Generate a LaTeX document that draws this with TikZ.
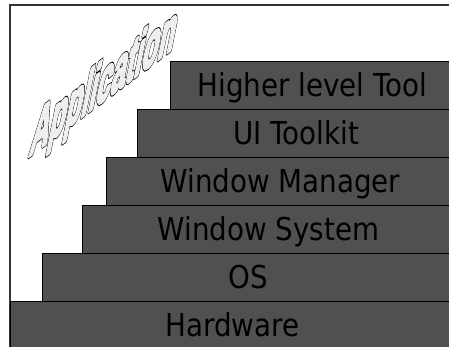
\documentclass[tikz,border=0pt]{standalone}
\usepackage{fontspec}
\setmainfont{DejaVu Sans}[FakeStretch=0.88]
\newfontfamily\appfont{Liberation Sans}
\usetikzlibrary{positioning}

\definecolor{layerfill}{RGB}{80,80,80}
\definecolor{wordfill}{RGB}{238,238,238}
% outline pass first, then a fat light pass on top
\newcommand{\outlined}[1]{%
  \rlap{\special{pdf:literal direct 1 j 0 0 0 RG 2.4 w 2 Tr}#1}%
  \special{pdf:literal direct 1 j 0.933 0.933 0.933 RG 1.6 w 2 Tr}#1\special{pdf:literal direct 0 Tr}}

\begin{document}
\begin{tikzpicture}[x=1pt, y=1pt]
    % Define styles
    \tikzstyle{layer} = [rectangle, draw=black, line width=0.8pt, fill=layerfill, text=black, inner sep=0pt, outer sep=0pt, minimum height=48pt, text height=30pt, text depth=6pt, font=\fontsize{31.5}{36}\selectfont, anchor=south east]
    \tikzstyle{frame} = [draw=black!80, line width=1.3pt]
    \tikzstyle{wordart} = [inner sep=0pt, anchor=base west, transform shape, text=wordfill, font=\appfont\bfseries\fontsize{26.5}{30}\selectfont]

    \useasboundingbox (0,0) rectangle (449,347);
    \clip (0,0) rectangle (449,347);

    % Frame
    \coordinate (corner) at (10,342);
    \draw [frame] (10,-5) -- (corner) -- (470,342);

    % Layers
    \node [layer, minimum width=445pt] (hardware) at (455,-2) {Hardware};
    \node [layer, minimum width=413pt] (os) at (hardware.north east) {OS};
    \node [layer, minimum width=373pt] (winsys) at (os.north east) {Window System};
    \node [layer, minimum width=349pt] (winman) at (winsys.north east) {Window Manager};
    \node [layer, minimum width=318pt] (toolkit) at (winman.north east) {UI Toolkit};
    \node [layer, minimum width=285pt] (tool) at (toolkit.north east) {Higher level Tool};

    % Title
    \begin{scope}[shift={(28,190)}, cm={1,0.75,0.5,2.5,(0,0)}]
        \node [wordart] (application) at (0,0) {\outlined{Application}};
    \end{scope}
\end{tikzpicture}
\end{document}
